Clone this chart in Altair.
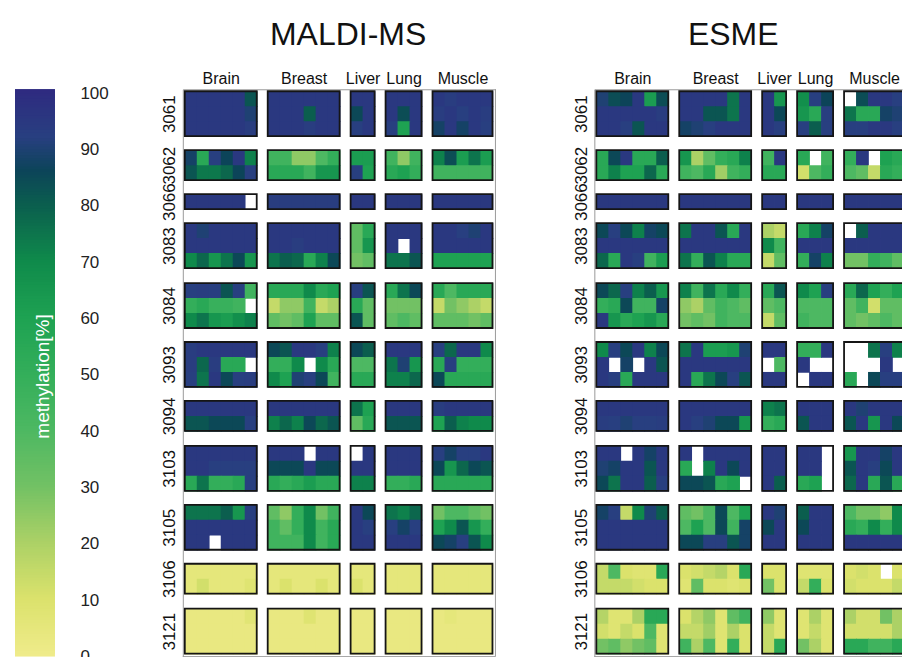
import altair as alt
import numpy as np
import pandas as pd

# ---- structure -------------------------------------------------------------
tissues = ["Brain", "Breast", "Liver", "Lung", "Muscle"]
samples_per_tissue = [6, 6, 2, 3, 5]
amplicons = ["3061", "3062", "3066", "3083", "3084", "3093",
             "3094", "3103", "3105", "3106", "3121"]

N = None  # no measurement

# ---- MALDI-MS methylation [%]; one list per CpG unit, samples ordered
#      Brain(6) | Breast(6) | Liver(2) | Lung(3) | Muscle(5)
maldi_3061 = [
    [95, 95, 95, 95, 95, 82, 95, 95, 95, 95, 95, 95, 95, 95, 95, 95, 95, 95, 93, 95, 95, 95],
    [95, 95, 95, 95, 95, 90, 95, 95, 95, 80, 95, 95, 85, 95, 95, 84, 95, 93, 95, 92, 95, 93],
    [95, 95, 95, 95, 95, 93, 95, 95, 95, 93, 95, 95, 92, 95, 92, 60, 95, 88, 95, 88, 95, 92],
]
maldi_3062 = [
    [88, 55, 92, 86, 95, 72, 45, 45, 25, 25, 40, 50, 62, 62, 45, 25, 45, 72, 84, 62, 75, 62],
    [82, 74, 74, 78, 86, 92, 55, 55, 55, 45, 65, 65, 92, 60, 55, 60, 50, 45, 45, 45, 45, 45],
]
maldi_3066 = [
    [95, 95, 95, 95, 95, N, 93, 93, 93, 93, 93, 93, 95, 95, 95, 95, 95, 95, 95, 95, 95, 95],
]
maldi_3083 = [
    [95, 90, 95, 95, 95, 95, 95, 95, 95, 95, 95, 95, 35, 55, 95, 95, 95, 95, 95, 92, 90, 95],
    [95, 95, 95, 95, 95, 95, 95, 95, 93, 95, 95, 95, 35, 65, 95, N, 95, 95, 95, 95, 95, 95],
    [70, 78, 65, 75, 85, 65, 75, 80, 78, 55, 72, 85, 30, 35, 75, 75, 82, 60, 60, 60, 60, 60],
]
maldi_3084 = [
    [92, 93, 92, 82, 92, 45, 55, 55, 55, 70, 55, 60, 92, 82, 55, 75, 85, 55, 40, 55, 55, 55],
    [50, 55, 48, 48, 45, N, 15, 25, 25, 45, 15, 20, 55, 35, 30, 30, 30, 15, 30, 25, 20, 15],
    [70, 75, 65, 62, 68, 72, 35, 30, 35, 60, 35, 35, 82, 35, 35, 40, 35, 35, 35, 35, 30, 35],
]
maldi_3093 = [
    [93, 95, 95, 95, 95, 95, 85, 82, 95, 95, 92, 72, 85, 80, 95, 95, 95, 92, 78, 95, 95, 70],
    [93, 78, 93, 55, 55, N, 50, 50, 70, N, 70, 55, 40, 40, 75, 90, 65, 55, 92, 50, 50, 50],
    [92, 75, 95, 85, 92, 93, 70, 60, 90, 92, 85, 45, 55, 55, 72, 72, 78, 85, 55, 55, 55, 55],
]
maldi_3094 = [
    [95, 95, 95, 95, 95, 95, 95, 95, 95, 95, 95, 95, 75, 60, 95, 95, 95, 93, 95, 95, 95, 95],
    [82, 82, 85, 85, 85, 92, 72, 78, 72, 85, 78, 82, 35, 55, 82, 82, 82, 60, 80, 72, 70, 70],
]
maldi_3103 = [
    [95, 95, 95, 95, 95, 95, 95, 95, 95, N, 95, 95, N, 95, 95, 95, 95, 92, 88, 92, 92, 95],
    [95, 95, 92, 92, 92, 92, 85, 85, 85, 95, 85, 85, 95, 95, 95, 95, 95, 85, 65, 78, 85, 82],
    [55, 75, 50, 50, 55, 92, 55, 50, 55, 62, 55, 55, 72, 72, 50, 50, 55, 55, 55, 55, 55, 55],
]
maldi_3105 = [
    [75, 75, 75, 80, 65, 92, 35, 25, 50, 70, 30, 45, 95, 85, 75, 72, 78, 30, 40, 40, 35, 30],
    [95, 95, 95, 95, 95, 95, 45, 35, 50, 70, 45, 55, 95, 92, 92, 88, 92, 60, 70, 82, 65, 50],
    [95, 95, N, 95, 95, 95, 45, 45, 45, 70, 45, 55, 95, 95, 95, 95, 95, 85, 88, 92, 82, 70],
]
maldi_3106 = [
    [5, 5, 5, 5, 5, 5, 5, 5, 5, 5, 5, 5, 5, 5, 5, 5, 5, 5, 5, 5, 5, 5],
    [5, 12, 5, 5, 5, 8, 5, 10, 5, 5, 10, 5, 10, 5, 5, 5, 5, 5, 5, 5, 5, 5],
]
maldi_3121 = [
    [3, 3, 3, 3, 3, 7, 3, 3, 3, 8, 3, 3, 3, 3, 3, 3, 3, 3, 5, 3, 3, 3],
    [3, 3, 3, 3, 3, 3, 3, 3, 3, 3, 3, 3, 3, 3, 3, 3, 3, 3, 3, 3, 3, 3],
    [3, 3, 3, 3, 3, 3, 3, 3, 3, 3, 3, 3, 3, 3, 3, 3, 3, 3, 3, 3, 3, 3],
]

# ---- ESME methylation [%] ---------------------------------------------------
esme_3061 = [
    [90, 84, 86, 95, 62, 84, 95, 95, 95, 95, 75, 95, 95, 65, 68, 92, 86, N, 84, 95, 95, 92],
    [95, 95, 95, 95, 95, 93, 95, 95, 82, 82, 75, 95, 95, 85, 65, 55, 92, 75, 55, 55, 88, 90],
    [95, 95, 92, 82, 95, 95, 88, 90, 92, 95, 95, 95, 95, 92, 92, 80, 92, 92, 92, 95, 95, 92],
]
esme_3062 = [
    [55, 85, 95, 55, 55, 80, 65, 20, 35, 50, 55, 72, 45, 95, 55, N, 45, 50, 95, N, 60, 55],
    [55, 72, 60, 60, 78, 55, 45, 40, 55, 22, 45, 50, 55, 55, 12, 40, 50, 40, 35, 15, 55, 50],
]
esme_3066 = [
    [95, 95, 95, 95, 95, 95, 95, 95, 95, 95, 95, 95, 95, 95, 95, 95, 95, 95, 95, 95, 95, 95],
]
esme_3083 = [
    [85, 92, 85, 72, 88, 85, 75, 95, 95, 82, 55, 95, 20, 15, 55, 72, 88, N, 80, 95, 95, 95],
    [95, 95, 95, 95, 95, 95, 95, 95, 95, 95, 95, 95, 70, 45, 95, 95, 95, 95, 95, 95, 95, 95],
    [78, 55, 95, 92, 45, 62, 75, 50, 82, 72, 55, 55, 15, 35, 50, 88, 72, 30, 30, 50, 45, 35],
]
esme_3084 = [
    [85, 78, 92, 72, 80, 65, 72, 45, 75, 55, 70, 50, 55, 82, 70, 60, 92, 55, 78, 60, 50, 60],
    [50, 55, 85, 45, 45, 88, 25, 20, 35, 45, 40, 35, 35, 40, 40, 40, 40, 35, 45, 12, 35, 35],
    [95, 65, 55, 60, 65, 55, 30, 35, 30, 45, 40, 40, 15, 35, 45, 40, 40, 35, 30, 35, 40, 35],
]
esme_3093 = [
    [70, 92, 85, 95, 72, 85, 75, 95, 62, 62, 65, 90, 95, 95, 50, 50, 95, N, N, 75, 92, 72],
    [95, N, 88, N, 95, 82, 95, 95, 95, 95, 95, 95, N, 40, 95, N, N, N, N, N, 95, N],
    [95, 92, 55, 95, 95, 95, 95, 55, 75, 85, 92, 82, 95, 95, N, 95, 95, 55, N, 85, 92, 92],
]
esme_3094 = [
    [95, 95, 95, 95, 95, 95, 95, 95, 95, 95, 95, 95, 72, 75, 95, 95, 95, 95, 90, 95, 95, 95],
    [93, 92, 90, 92, 92, 93, 95, 92, 90, 85, 85, 65, 50, 55, 82, 95, 95, 82, 95, 65, 95, 85],
]
esme_3103 = [
    [95, 95, N, 95, 88, 95, 95, N, 95, 95, 95, 95, 95, 95, 95, 95, N, 65, 95, 95, 88, 95],
    [90, 88, 95, 95, 82, 95, 55, N, 72, 95, 85, 95, 95, 95, 95, 95, N, 82, 95, 92, 85, 95],
    [85, 75, 95, 95, 80, 92, 85, 85, 82, 55, 60, N, 95, 80, 55, 60, N, 78, 95, 55, 82, 55],
]
esme_3105 = [
    [88, 92, 15, 70, 90, 80, 35, 30, 40, 85, 40, 60, 95, 90, 80, 95, 95, 40, 30, 30, 25, 70],
    [95, 95, 95, 95, 95, 95, 40, 60, 40, 85, 45, 88, 85, 95, 85, 95, 95, 55, 50, 70, 50, 70],
    [95, 95, 95, 95, 95, 95, 85, 85, 92, 92, 82, 88, 95, 95, 95, 95, 95, 95, 95, 95, 95, 95],
]
esme_3106 = [
    [15, 40, 10, 8, 8, 55, 10, 12, 15, 18, 10, 55, 10, 10, 8, 8, 8, 10, 12, 10, N, 10],
    [15, 15, 15, 12, 10, 10, 8, 35, 10, 10, 8, 10, 30, 10, 15, 50, 10, 12, 10, 10, 10, 15],
]
esme_3121 = [
    [18, 8, 8, 20, 55, 55, 10, 18, 25, 8, 35, 45, 25, 8, 8, 20, 8, 20, 12, 12, 30, 20],
    [12, 8, 15, 10, 40, 8, 15, 15, 22, 8, 20, 10, 15, 8, 8, 15, 8, 12, 12, 12, 12, 20],
    [30, 35, 25, 30, 35, 8, 45, 20, 40, 8, 50, 10, 15, 55, 30, 20, 8, 55, 55, 45, 45, 55],
]

maldi = dict(zip(amplicons, [maldi_3061, maldi_3062, maldi_3066, maldi_3083, maldi_3084,
                             maldi_3093, maldi_3094, maldi_3103, maldi_3105, maldi_3106,
                             maldi_3121]))
esme = dict(zip(amplicons, [esme_3061, esme_3062, esme_3066, esme_3083, esme_3084,
                            esme_3093, esme_3094, esme_3103, esme_3105, esme_3106,
                            esme_3121]))

# colour scale: yellow -> green -> teal -> indigo
color_stops = [0, 10, 20, 30, 40, 50, 60, 70, 80, 86, 92, 100]
color_range = ["#efeb8a", "#dbe26c", "#acd166", "#72c164", "#4db862", "#33ae5a",
               "#1ea252", "#0f8a4b", "#0b5e4e", "#0c4459", "#283f80", "#2e2b80"]
cscale = alt.Scale(domain=color_stops, range=color_range, interpolate="rgb")

# ---- grid geometry (pixel units, snapped to whole pixels) -------------------
CELL_W, CELL_H = 12, 15
GAP_X, GAP_Y = 11, 14.3
PAD_L, PAD_R = 2, 3
PAD_T, PAD_B = 2, 3
BLEED = 0.8  # cells overlap their right/lower neighbour so no seams show

tissue_start, used = [], 0
for k, n in enumerate(samples_per_tissue):
    tissue_start.append(int(PAD_L + used * CELL_W + k * GAP_X))
    used += n
PANEL_W = int(PAD_L + used * CELL_W + (len(samples_per_tissue) - 1) * GAP_X + PAD_R)

rows_per_amp = [len(maldi[a]) for a in amplicons]
amp_start, used = [], 0
for k, m in enumerate(rows_per_amp):
    amp_start.append(int(PAD_T + used * CELL_H + k * GAP_Y))
    used += m
PANEL_H = int(round(PAD_T + used * CELL_H + (len(rows_per_amp) - 1) * GAP_Y + PAD_B))


def cell_table(table):
    recs = []
    for a, y0 in zip(amplicons, amp_start):
        for r, row in enumerate(table[a]):
            c = 0
            for t, (n, x0) in enumerate(zip(samples_per_tissue, tissue_start)):
                for j in range(n):
                    v = row[c]
                    c += 1
                    if v is None:
                        continue
                    recs.append(dict(amplicon=a, tissue=tissues[t], cpg=r + 1,
                                     sample=j + 1, methylation=v,
                                     x=x0 + j * CELL_W, x2=x0 + (j + 1) * CELL_W + BLEED,
                                     y=y0 + r * CELL_H, y2=y0 + (r + 1) * CELL_H + BLEED))
    return pd.DataFrame(recs)


blocks = pd.DataFrame([
    dict(x=x0, x2=x0 + n * CELL_W, y=y0, y2=y0 + m * CELL_H)
    for x0, n in zip(tissue_start, samples_per_tissue)
    for y0, m in zip(amp_start, rows_per_amp)
])

# axis label lookup: tissue / amplicon by position
x_centers = [s + n * CELL_W / 2 for s, n in zip(tissue_start, samples_per_tissue)]
y_centers = [s + m * CELL_H / 2 for s, m in zip(amp_start, rows_per_amp)]
x_expr = "".join(f"datum.value < {s + n * CELL_W + GAP_X / 2:.1f} ? '{t}' : "
                 for s, n, t in zip(tissue_start, samples_per_tissue, tissues)) + "''"
y_expr = "".join(f"datum.value < {s + m * CELL_H + GAP_Y / 2:.1f} ? '{a}' : "
                 for s, m, a in zip(amp_start, rows_per_amp, amplicons)) + "''"

FRAME = "#9a9a9a"


def panel(title, table, width, dx, right_edge):
    xs = alt.Scale(domain=[0, width], nice=False, zero=False)
    ys = alt.Scale(domain=[0, PANEL_H], reverse=True, nice=False, zero=False)
    x_axis = alt.Axis(orient="top", values=x_centers, labelExpr=x_expr, ticks=False,
                      grid=False, domainColor=FRAME, domainWidth=1, labelFontSize=16,
                      labelPadding=3, labelOverlap=False, labelColor="#111", title=None)
    y_axis = alt.Axis(orient="left", values=y_centers, labelExpr=y_expr, ticks=False,
                      grid=False, domainColor=FRAME, domainWidth=1, labelFontSize=17,
                      labelAngle=270, labelAlign="center", labelBaseline="bottom",
                      labelPadding=4, labelOverlap=False, labelColor="#111", title=None)
    heat = alt.Chart(cell_table(table)).mark_rect(clip=True).encode(
        x=alt.X("x:Q", scale=xs, axis=x_axis), x2="x2:Q",
        y=alt.Y("y:Q", scale=ys, axis=y_axis), y2="y2:Q",
        color=alt.Color("methylation:Q", scale=cscale, legend=None),
    )
    outline = alt.Chart(blocks).mark_rect(
        clip=True, filled=False, stroke="#151515", strokeWidth=1.8
    ).encode(x="x:Q", x2="x2:Q", y="y:Q", y2="y2:Q")
    edges = [dict(x=0, x2=width, y=PANEL_H, y2=PANEL_H)]
    if right_edge:
        edges.append(dict(x=width, x2=width, y=0, y2=PANEL_H))
    border = alt.Chart(pd.DataFrame(edges)).mark_rule(color=FRAME, strokeWidth=1).encode(
        x="x:Q", x2="x2:Q", y="y:Q", y2="y2:Q")
    return alt.layer(heat, outline, border).properties(
        width=width, height=PANEL_H,
        title=alt.TitleParams(title, fontSize=32, fontWeight="normal", anchor="middle",
                              frame="group", dx=dx, offset=18, color="#111"),
        view=alt.ViewBackground(stroke=None),
    )


# ---- colour bar ---------------------------------------------------------------
BAR_TOP = 100.7
STEP = 0.5
grad = pd.DataFrame({"v": np.arange(0, BAR_TOP, STEP)})
grad["v2"] = grad["v"] + 2 * STEP  # each band overlaps the next to avoid seams
bar = alt.Chart(grad).mark_rect(clip=True).encode(
    x=alt.value(0), x2=alt.value(40),
    y=alt.Y("v:Q", scale=alt.Scale(domain=[0, BAR_TOP], nice=False, zero=False),
            axis=alt.Axis(orient="right", values=list(range(0, 101, 10)), ticks=False,
                          domain=False, grid=False, offset=-6, labelPadding=2,
                          labelFontSize=17, labelColor="#222", labelAlign="left",
                          title="methylation[%]", titleColor="white", titleFontSize=19,
                          titleFontWeight="normal", titleAngle=270, titleX=-35,
                          titleY=287, titleAlign="center", titleBaseline="middle",
                          zindex=5)),
    y2="v2:Q",
    color=alt.Color("v:Q", scale=cscale, legend=None),
    order=alt.Order("v:Q"),
).properties(width=69, height=PANEL_H, view=alt.ViewBackground(stroke=None))

chart = alt.hconcat(
    bar,
    panel("MALDI-MS", maldi, PANEL_W, 9, True),
    panel("ESME", esme, 308, -15, False),
    spacing=99, bounds="flush",
).properties(
    padding={"left": 15, "top": 19, "right": 0, "bottom": 0},
    background="white",
).configure(font="Liberation Sans").configure_view(stroke=None)

chart.save("out.html", embed_options={"renderer": "svg", "actions": False})
